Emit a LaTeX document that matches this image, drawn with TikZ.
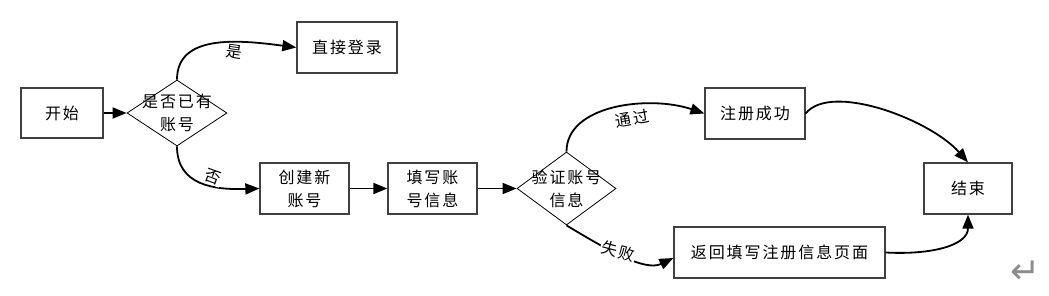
\documentclass[tikz,border=0pt]{standalone}
\usepackage{fontspec}
\newfontfamily\cjk[LetterSpace=12]{Noto Sans CJK SC}
\newfontfamily\dejavu{DejaVu Sans}
\usetikzlibrary{arrows.meta,shapes.geometric,calc}
\tikzset{
  box/.style={draw=black!75, line width=1.3pt, rectangle, inner sep=0pt, align=center},
  dia/.style={draw=black, line width=0.8pt, shape=diamond, inner sep=0pt},
  txt/.style={align=center, inner sep=0pt},
  conn/.style={line width=1.8pt, -{Triangle[length=14pt,width=11pt]}},
  lbl/.style={fill=white, inner sep=1pt},
}
\begin{document}
\begin{tikzpicture}[x=1pt,y=-1pt,
  font=\cjk\fontsize{16}{23}\selectfont]
\useasboundingbox (0,0) rectangle (1049,296);
% boxes
\node[box, minimum width=82pt, minimum height=50pt] (start) at (62,113) {开始};
\node[dia, minimum width=100pt, minimum height=66pt] (d1) at (177,113) {};
\node[txt] (d1t) at (177,113) {是否已有\\账号};
\node[box, minimum width=100pt, minimum height=51pt] (login) at (347,47.5) {直接登录};
\node[box, minimum width=89pt, minimum height=51pt] (create) at (304.5,188.5) {创建新\\账号};
\node[box, minimum width=89pt, minimum height=51pt] (fill) at (432.5,188.5) {填写账\\号信息};
\node[dia, minimum width=99pt, minimum height=73pt] (d2) at (566.5,188.5) {};
\node[txt] (d2t) at (566.5,188.5) {验证账号\\信息};
\node[box, minimum width=100pt, minimum height=51pt] (succ) at (755,113.5) {注册成功};
\node[box, minimum width=88pt, minimum height=51pt] (end) at (968,188.5) {结束};
\node[box, minimum width=211pt, minimum height=51pt] (ret) at (779.5,252.5) {返回填写注册信息页面};
\node[text=black!45, font=\dejavu\fontsize{36}{36}\selectfont, inner sep=0pt] (para) at (1026,272) {↵};
% connectors
\draw[conn] (start.east) -- (d1.west);
\draw[conn] (d1.north) .. controls ($(d1.north)+(0,-45)$) and ($(login.west)+(-60,-8)$) .. (login.west);
\draw[conn] (d1.south) .. controls ($(d1.south)+(0,39)$) and ($(create.west)+(-45,1.5)$) .. (create.west);
\draw[conn] (create.east) -- (fill.west);
\draw[conn] (fill.east) -- (d2.west);
\draw[conn] (d2.north) .. controls ($(d2.north)+(0,-47)$) and ($(succ.west)+(-55,-18.5)$) .. (succ.west);
\coordinate (retin) at ($(ret.west)+(0,5.5)$);
\draw[conn] (d2.south) .. controls ($(d2.south)+(38.5,23)$) and ($(retin)+(-29,14)$) .. (retin);
\draw[conn] (succ.east) .. controls ($(succ.east)+(25,-31.5)$) and ($(end.north)+(-38,-43)$) .. (end.north);
\draw[conn] (ret.east) .. controls ($(ret.east)+(45,2.5)$) and ($(end.south)+(0,31)$) .. (end.south);
% labels
\node[lbl, rotate=-8] (lyes) at (234,52) {是};
\node[lbl, rotate=-20] (lno) at (213,177) {否};
\node[lbl, rotate=10] (lpass) at (632,119) {通过};
\node[lbl, rotate=-15] (lfail) at (618,251) {失败};
\end{tikzpicture}
\end{document}
